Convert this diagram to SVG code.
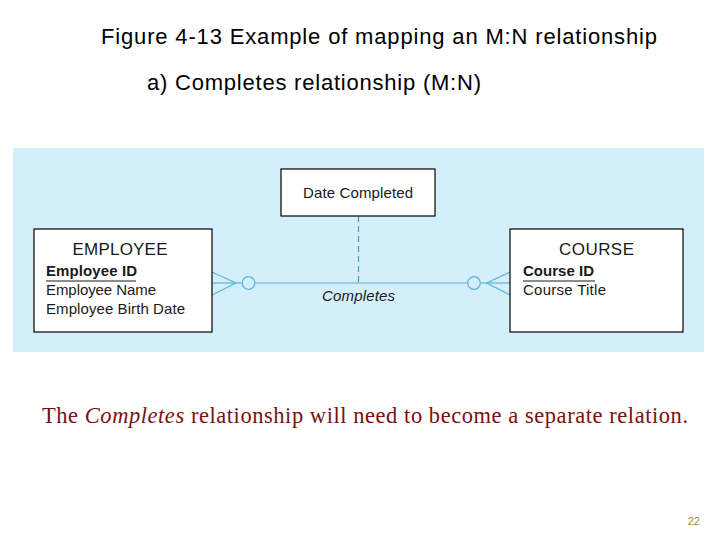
<svg xmlns="http://www.w3.org/2000/svg" width="720" height="540" viewBox="0 0 720 540">
<style>
.t{font-family:"Liberation Sans",Arial,sans-serif;fill:#000}
.ent{fill:#fff;stroke:#000;stroke-width:1.2}
.ename{font-family:"Liberation Sans",Arial,sans-serif;font-size:17px;fill:#1a1a1a;text-anchor:middle}
.attr{font-family:"Liberation Sans",Arial,sans-serif;font-size:15px;fill:#1a1a1a}
.pk{font-weight:bold}
.ln{stroke:#5ab4d6;stroke-width:1.2;fill:none}
</style>
<rect width="720" height="540" fill="#fff"/>
<text class="t" x="101" y="44" font-size="22" textLength="556">Figure 4-13 Example of mapping an M:N relationship</text>
<text class="t" x="147" y="90" font-size="22" textLength="334">a) Completes relationship (M:N)</text>
<rect x="13" y="148" width="691" height="204" fill="#d4eefa"/>
<g id="connectors">
<line class="ln" x1="212" y1="283" x2="242" y2="283"/>
<line class="ln" x1="212" y1="272" x2="236" y2="283"/>
<line class="ln" x1="212" y1="295" x2="236" y2="283"/>
<circle class="ln" cx="248.5" cy="283" r="6.3"/>
<line class="ln" x1="254.8" y1="283" x2="467.7" y2="283"/>
<circle class="ln" cx="474" cy="283" r="6.3"/>
<line class="ln" x1="480.3" y1="283" x2="510" y2="283"/>
<line class="ln" x1="510" y1="272" x2="486.5" y2="283"/>
<line class="ln" x1="510" y1="295" x2="486.5" y2="283"/>
<line x1="358.5" y1="216" x2="358.5" y2="283" stroke="#3a9fb0" stroke-width="1.2" stroke-dasharray="6,4"/>
<text class="attr" x="358.5" y="301" font-style="italic" text-anchor="middle" fill="#333" textLength="73">Completes</text>
</g>
<g id="date-completed">
<rect class="ent" x="281" y="169" width="154" height="47"/>
<text class="attr" x="358" y="198" text-anchor="middle" textLength="110">Date Completed</text>
</g>
<g id="employee">
<rect class="ent" x="34" y="229" width="178" height="103"/>
<text class="ename" x="120" y="255" textLength="95">EMPLOYEE</text>
<text class="attr pk" x="46" y="276" textLength="91">Employee ID</text>
<line x1="46" y1="281" x2="136" y2="281" stroke="#1a1a1a" stroke-width="1"/>
<text class="attr" x="46" y="295" textLength="110">Employee Name</text>
<text class="attr" x="46" y="314" textLength="139">Employee Birth Date</text>
</g>
<g id="course">
<rect class="ent" x="510" y="229" width="173" height="103"/>
<text class="ename" x="596.5" y="255" textLength="75">COURSE</text>
<text class="attr pk" x="523" y="276" textLength="71">Course ID</text>
<line x1="523" y1="281" x2="595" y2="281" stroke="#1a1a1a" stroke-width="1"/>
<text class="attr" x="523" y="295" textLength="83">Course Title</text>
</g>
<text x="42" y="423" font-family="'Liberation Serif','Times New Roman',serif" font-size="22.5" fill="#7a1010" textLength="646">The <tspan font-style="italic">Completes</tspan> relationship will need to become a separate relation.</text>
<text x="700" y="525" font-family="'Liberation Sans',Arial,sans-serif" font-size="11" fill="#a08c3c" text-anchor="end">22</text>
</svg>
